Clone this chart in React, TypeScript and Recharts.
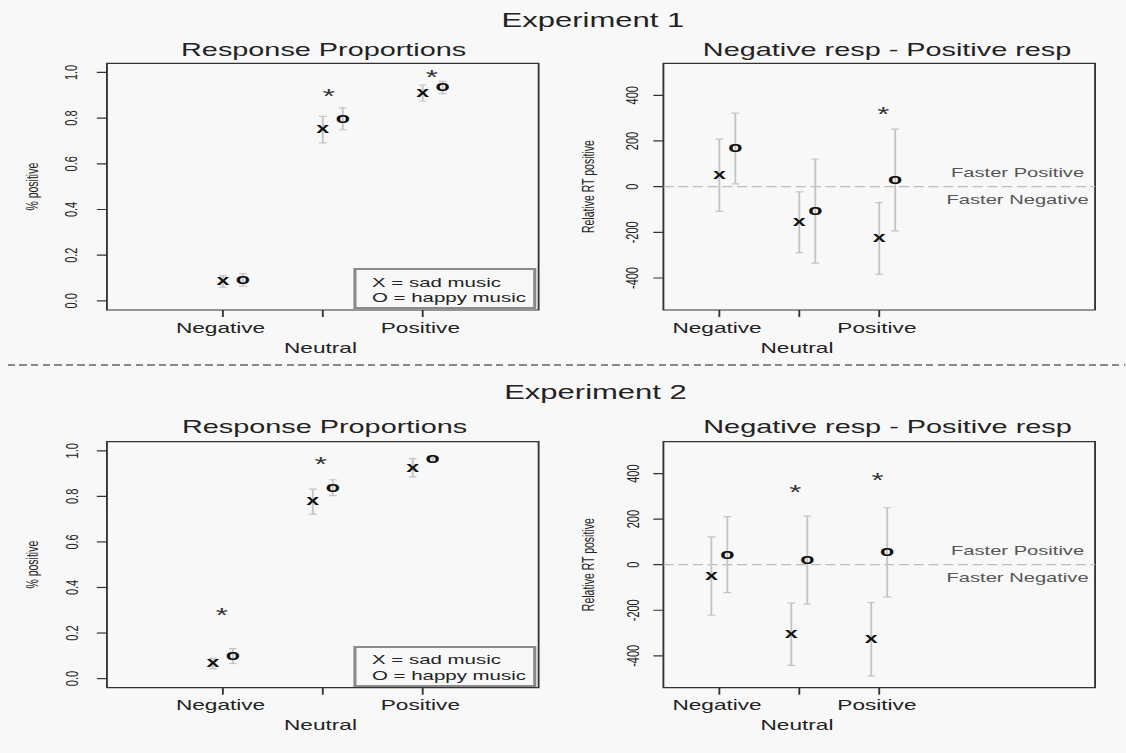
import React from 'react';
import {
  ScatterChart,
  Scatter,
  XAxis,
  YAxis,
  ErrorBar,
  ReferenceArea,
  ReferenceLine,
  Legend,
} from 'recharts';

// the source image is stretched sideways, so the whole figure is drawn
// narrow and then widened by this factor
const SX = 1.55;
const FONT = '"Liberation Sans", Arial, Helvetica, sans-serif';

const categories = ['Negative', 'Neutral', 'Positive'];
const propTicks = [0, 0.2, 0.4, 0.6, 0.8, 1.0];
const rtTicks = [-400, -200, 0, 200, 400];

// Experiment 1 - response proportions
const exp1PropSad = [0.085, 0.75, 0.91];
const exp1PropSadErr = [0.025, 0.058, 0.035];
const exp1PropHappy = [0.092, 0.797, 0.934];
const exp1PropHappyErr = [0.027, 0.048, 0.027];
const exp1PropStarX = [2.06, 3.09];
const exp1PropStarY = [0.915, 1.0];

// Experiment 1 - relative RT
const exp1RtSad = [50, -156, -227];
const exp1RtSadErr = [158, 133, 157];
const exp1RtHappy = [167, -107, 29];
const exp1RtHappyErr = [155, 228, 223];
const exp1RtStarX = [3.05];
const exp1RtStarY = [339];

// Experiment 2 - response proportions
const exp2PropSad = [0.066, 0.777, 0.926];
const exp2PropSadErr = [0.023, 0.055, 0.04];
const exp2PropHappy = [0.099, 0.838, 0.962];
const exp2PropHappyErr = [0.033, 0.035, 0.008];
const exp2PropStarX = [0.99, 1.98];
const exp2PropStarY = [0.3, 0.962];

// Experiment 2 - relative RT
const exp2RtSad = [-50, -305, -327];
const exp2RtSadErr = [172, 137, 161];
const exp2RtHappy = [44, 20, 54];
const exp2RtHappyErr = [167, 193, 196];
const exp2RtStarX = [1.95, 2.98];
const exp2RtStarY = [339, 392];

const legendOrder = ['sad music', 'happy music'];
const markerOf: Record<string, string> = { 'sad music': 'X', 'happy music': 'O' };

const makeSeries = (vals: number[], errs: number[], offset: number) =>
  vals.map((y, i) => ({ x: i + 1 + offset, y, err: errs[i], cat: categories[i] }));

const makeStars = (xs: number[], ys: number[]) => xs.map((x, i) => ({ x, y: ys[i] }));

const Y_AXIS_W = 69;
const CHART_W = 355.5;
const CHART_H = 340;

const glyph = (ch: string) => (props: any) => (
  <text
    x={props.cx}
    y={props.cy + 3.9}
    textAnchor="middle"
    fontSize={15}
    fontWeight="bold"
    fill="#111"
    fontFamily={FONT}
  >
    {ch}
  </text>
);

const star = (props: any) => (
  <text x={props.cx} y={props.cy + 11.6} textAnchor="middle" fontSize={20} fill="#333" fontFamily={FONT}>
    *
  </text>
);

const LegendBox = ({ payload }: any) => {
  const names = (payload || []).map((e: any) => e.value);
  const rows = legendOrder.filter((n) => names.includes(n));
  return (
    <div
      style={{
        boxSizing: 'border-box',
        width: 118.2,
        height: 41,
        border: '2.5px solid #8a8a8a',
        padding: '4.5px 0 0 9.7px',
        fontSize: 13.2,
        lineHeight: '15.4px',
        color: '#222',
        fontFamily: FONT,
        whiteSpace: 'nowrap',
      }}
    >
      {rows.map((n) => (
        <div key={n}>
          {markerOf[n]} = {n}
        </div>
      ))}
    </div>
  );
};

interface PanelProps {
  left: number;
  top: number;
  marginTop: number;
  plotH: number;
  xDomain: [number, number];
  yDomain: [number, number];
  yTicks: number[];
  fmt: (v: number) => string;
  yLabel: string;
  tickDist: number;
  sad: any[];
  happy: any[];
  stars: any[];
  legend?: boolean;
  zeroLine?: boolean;
}

const Panel: React.FC<PanelProps> = (p) => {
  const xAxisH = CHART_H - p.marginTop - p.plotH;

  const yTick = (t: any) => (
    <text
      x={0}
      y={0}
      transform={`translate(${Y_AXIS_W - p.tickDist},${t.y}) rotate(-90)`}
      textAnchor="middle"
      fontSize={11}
      fill="#222"
      fontFamily={FONT}
    >
      {p.fmt(t.payload.value)}
    </text>
  );

  const xTick = (t: any) => {
    const i = Math.round(t.payload.value) - 1;
    return (
      <text
        x={t.x - 1.5}
        y={t.y + (i === 1 ? 35.7 : 15.7)}
        textAnchor="middle"
        fontSize={14.6}
        fill="#222"
        fontFamily={FONT}
      >
        {categories[i]}
      </text>
    );
  };

  const yTitle = (l: any) => {
    const vb = l.viewBox || {};
    const bx = Y_AXIS_W - 44.5;
    const cy = (vb.y ?? p.marginTop) + (vb.height ?? p.plotH) / 2;
    return (
      <text
        x={0}
        y={0}
        transform={`translate(${bx},${cy}) rotate(-90)`}
        textAnchor="middle"
        fontSize={10.5}
        fill="#222"
        fontFamily={FONT}
      >
        {p.yLabel}
      </text>
    );
  };

  const fasterLabels = (l: any) => {
    const vb = l.viewBox || {};
    const cx = vb.x + vb.width - 50;
    return (
      <g fontFamily={FONT} fontSize={13} fill="#555" textAnchor="middle">
        <text x={cx} y={vb.y - 10}>Faster Positive</text>
        <text x={cx} y={vb.y + 17}>Faster Negative</text>
      </g>
    );
  };

  return (
    <div style={{ position: 'absolute', left: p.left, top: p.top }}>
      <ScatterChart
        width={CHART_W}
        height={CHART_H}
        margin={{ top: p.marginTop, right: 8, bottom: 0, left: 0 }}
      >
        <XAxis
          type="number"
          dataKey="x"
          domain={p.xDomain}
          ticks={[1, 2, 3]}
          allowDataOverflow
          axisLine={false}
          tickSize={7}
          tickMargin={0}
          tickLine={{ stroke: '#333', strokeWidth: 1.2 }}
          tick={xTick}
          height={xAxisH}
        />
        <YAxis
          type="number"
          dataKey="y"
          domain={p.yDomain}
          ticks={p.yTicks}
          allowDataOverflow
          axisLine={false}
          width={Y_AXIS_W}
          tickSize={6.5}
          tickMargin={0}
          tickLine={{ stroke: '#333', strokeWidth: 1.2 }}
          tick={yTick}
          label={{ content: yTitle }}
        />
        {p.zeroLine && (
          <ReferenceLine
            y={0}
            stroke="#bdbdbd"
            strokeWidth={1.2}
            strokeDasharray="6.5 3"
            label={{ content: fasterLabels }}
          />
        )}
        <Scatter name="sad music" data={p.sad} shape={glyph('x')} isAnimationActive={false}>
          <ErrorBar
            dataKey="err"
            direction="y"
            width={2.5}
            stroke="#c4c4c4"
            strokeWidth={1.2}
            isAnimationActive={false}
          />
        </Scatter>
        <Scatter name="happy music" data={p.happy} shape={glyph('o')} isAnimationActive={false}>
          <ErrorBar
            dataKey="err"
            direction="y"
            width={2.5}
            stroke="#c4c4c4"
            strokeWidth={1.2}
            isAnimationActive={false}
          />
        </Scatter>
        <Scatter name="sig" data={p.stars} shape={star} legendType="none" isAnimationActive={false} />
        <ReferenceArea
          x1={p.xDomain[0]}
          x2={p.xDomain[1]}
          y1={p.yDomain[0]}
          y2={p.yDomain[1]}
          fill="none"
          stroke="#333"
          strokeWidth={1.2}
          ifOverflow="visible"
        />
        {p.legend && (
          <Legend
            layout="vertical"
            align="center"
            verticalAlign="middle"
            content={LegendBox}
            wrapperStyle={{
              left: 228.3,
              top: p.marginTop + p.plotH - 1 - 41,
              width: 118.2,
              height: 41,
            }}
          />
        )}
      </ScatterChart>
    </div>
  );
};

const Title: React.FC<{ text: string; cx: number; baseline: number; size: number }> = ({
  text,
  cx,
  baseline,
  size,
}) => (
  <div
    style={{
      position: 'absolute',
      left: cx,
      top: baseline - 0.8465 * size,
      transform: 'translateX(-50%)',
      fontSize: size,
      lineHeight: `${size}px`,
      whiteSpace: 'nowrap',
      color: '#222',
    }}
  >
    {text}
  </div>
);

const propFmt = (v: number) => v.toFixed(1);
const rtFmt = (v: number) => String(v);

export default function App() {
  return (
    <div
      style={{
        position: 'absolute',
        left: 0,
        top: 0,
        width: 1126,
        height: 753,
        background: '#f8f8f8',
        overflow: 'hidden',
      }}
    >
      <div
        style={{
          position: 'absolute',
          left: 0,
          top: 0,
          width: 1126 / SX,
          height: 753,
          transform: `scaleX(${SX})`,
          transformOrigin: '0 0',
          fontFamily: FONT,
        }}
      >
        <Title text="Experiment 1" cx={382.5} baseline={26.7} size={20} />
        <Title text="Response Proportions" cx={208.8} baseline={56.7} size={18.6} />
        <Title text="Negative resp - Positive resp" cx={572.3} baseline={56.7} size={18.6} />

        <Panel
          left={0}
          top={30}
          marginTop={33.3}
          plotH={246.7}
          xDomain={[-0.16, 4.16]}
          yDomain={[-0.04, 1.04]}
          yTicks={propTicks}
          fmt={propFmt}
          yLabel="% positive"
          tickDist={19.5}
          sad={makeSeries(exp1PropSad, exp1PropSadErr, 0)}
          happy={makeSeries(exp1PropHappy, exp1PropHappyErr, 0.2)}
          stars={makeStars(exp1PropStarX, exp1PropStarY)}
          legend
        />
        <Panel
          left={359}
          top={30}
          marginTop={33.3}
          plotH={246.7}
          xDomain={[0.3, 5.7]}
          yDomain={[-540, 540]}
          yTicks={rtTicks}
          fmt={rtFmt}
          yLabel="Relative RT positive"
          tickDist={16.2}
          sad={makeSeries(exp1RtSad, exp1RtSadErr, 0)}
          happy={makeSeries(exp1RtHappy, exp1RtHappyErr, 0.2)}
          stars={makeStars(exp1RtStarX, exp1RtStarY)}
          zeroLine
        />

        <div
          style={{
            position: 'absolute',
            left: 8 / SX,
            top: 364,
            width: (1126 - 8) / SX,
            height: 2,
            background:
              'repeating-linear-gradient(to right, #888 0px, #888 4.7px, transparent 4.7px, transparent 7.5px)',
          }}
        />

        <Title text="Experiment 2" cx={384.2} baseline={398.7} size={20} />
        <Title text="Response Proportions" cx={209.4} baseline={433.3} size={18.6} />
        <Title text="Negative resp - Positive resp" cx={572.6} baseline={433.3} size={18.6} />

        <Panel
          left={0}
          top={410}
          marginTop={31.7}
          plotH={246}
          xDomain={[-0.16, 4.16]}
          yDomain={[-0.04, 1.04]}
          yTicks={propTicks}
          fmt={propFmt}
          yLabel="% positive"
          tickDist={18.5}
          sad={makeSeries(exp2PropSad, exp2PropSadErr, -0.1)}
          happy={makeSeries(exp2PropHappy, exp2PropHappyErr, 0.1)}
          stars={makeStars(exp2PropStarX, exp2PropStarY)}
          legend
        />
        <Panel
          left={359}
          top={410}
          marginTop={31.7}
          plotH={246}
          xDomain={[0.3, 5.7]}
          yDomain={[-540, 540]}
          yTicks={rtTicks}
          fmt={rtFmt}
          yLabel="Relative RT positive"
          tickDist={15.8}
          sad={makeSeries(exp2RtSad, exp2RtSadErr, -0.1)}
          happy={makeSeries(exp2RtHappy, exp2RtHappyErr, 0.1)}
          stars={makeStars(exp2RtStarX, exp2RtStarY)}
          zeroLine
        />
      </div>
    </div>
  );
}
